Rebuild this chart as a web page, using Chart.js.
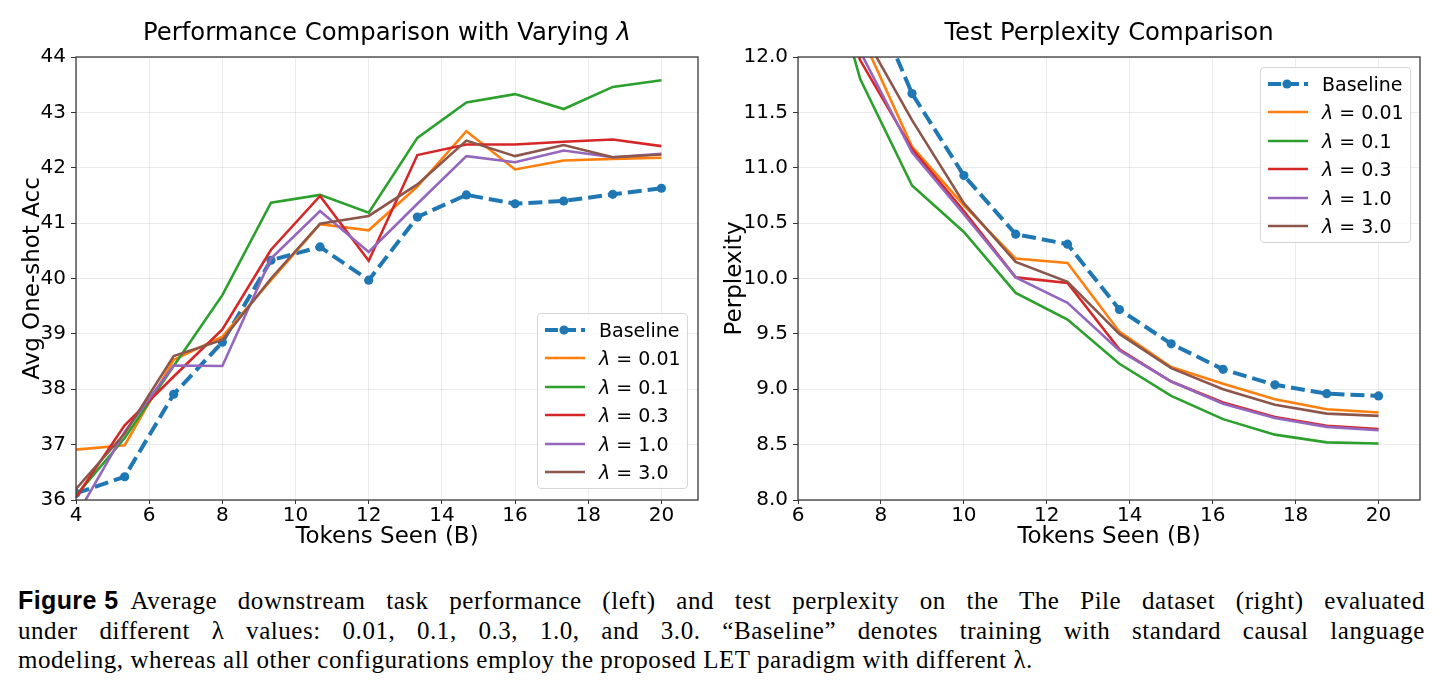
<!DOCTYPE html>
<html>
<head>
<meta charset="utf-8">
<script src="https://cdn.jsdelivr.net/npm/chart.js@4.4.1/dist/chart.umd.min.js"></script>
<style>
  html, body { margin: 0; padding: 0; background: #fff; }
  #page { position: relative; width: 1443px; height: 695px; overflow: hidden; font-family: "DejaVu Sans", sans-serif; }
  canvas { position: absolute; top: 0; }
  .ttl { position: absolute; top: 17px; font-size: 24.3px; line-height: 30px; text-align: center; color: #000; white-space: nowrap; }
  .legend { position: absolute; width: 149px; height: 174px; border: 1px solid #d6d6d6; border-radius: 4px; background: rgba(255,255,255,0.8); font-size: 19px; color: #000; }
  .legend .row { position: absolute; left: 0; height: 28px; line-height: 28px; white-space: nowrap; }
  .legend svg { position: absolute; left: 6px; top: 4px; }
  .legend span { position: absolute; left: 61px; top: 0; }
  .cap { position: absolute; left: 18px; width: 1407px; font-family: "Liberation Serif", "DejaVu Serif", serif; font-size: 25px; letter-spacing: 0.55px; line-height: 30px; color: #000; white-space: nowrap; }
  .cap.j { text-align: justify; text-align-last: justify; white-space: normal; }
  .cap .fig { display: inline-block; margin-right: 12px; font-family: "Liberation Sans", "DejaVu Sans", sans-serif; font-weight: bold; font-size: 25px; letter-spacing: 0.4px; }
</style>
</head>
<body>
<div id="page">
  <canvas id="left" width="720" height="560" style="left:0"></canvas>
  <canvas id="right" width="723" height="560" style="left:720px"></canvas>
  <div class="ttl" style="left:87px;width:600px">Performance Comparison with Varying <i>λ</i></div>
  <div class="ttl" style="left:809px;width:600px">Test Perplexity Comparison</div>
  <div class="legend" id="legLeft" style="left:537px;top:313px"></div>
  <div class="legend" id="legRight" style="left:1260px;top:67px"></div>
  <div class="cap j" style="top:585px"><span class="fig">Figure 5</span>Average downstream task performance (left) and test perplexity on the The Pile dataset (right) evaluated</div>
  <div class="cap j" style="top:616px">under different λ values: 0.01, 0.1, 0.3, 1.0, and 3.0. “Baseline” denotes training with standard causal language</div>
  <div class="cap" style="top:645px">modeling, whereas all other configurations employ the proposed LET paradigm with different λ.</div>
</div>
<script>
// series names and colours (matplotlib tab10)
const seriesNames = ['Baseline', 'λ = 0.01', 'λ = 0.1', 'λ = 0.3', 'λ = 1.0', 'λ = 3.0'];
const seriesColors = ['#1f77b4', '#ff7f0e', '#2ca02c', '#d62728', '#9467bd', '#8c564b'];

// left: avg one-shot accuracy vs tokens seen (B)
const accTokens = [4, 5.33, 6.67, 8, 9.33, 10.67, 12, 13.33, 14.67, 16, 17.33, 18.67, 20];
const accBaseline = [36.12, 36.42, 37.91, 38.85, 40.33, 40.57, 39.97, 41.11, 41.51, 41.35, 41.40, 41.52, 41.63];
const acc001 = [36.91, 36.99, 38.53, 38.95, 39.97, 40.98, 40.87, 41.66, 42.66, 41.97, 42.13, 42.16, 42.18];
const acc01 = [36.08, 37.12, 38.42, 39.70, 41.37, 41.51, 41.19, 42.54, 43.18, 43.33, 43.06, 43.46, 43.58];
const acc03 = [36.05, 37.35, 38.23, 39.08, 40.52, 41.49, 40.32, 42.23, 42.42, 42.42, 42.47, 42.51, 42.39];
const acc10 = [35.70, 37.23, 38.43, 38.42, 40.36, 41.22, 40.48, 41.35, 42.21, 42.10, 42.31, 42.19, 42.25];
const acc30 = [36.20, 37.20, 38.60, 38.89, 40.00, 40.99, 41.13, 41.70, 42.49, 42.21, 42.41, 42.19, 42.24];

// right: test perplexity vs tokens seen (B)
const pplTokens = [6.25, 7.5, 8.75, 10, 11.25, 12.5, 13.75, 15, 16.25, 17.5, 18.75, 20];
const pplBaseline = [14.0, 12.77, 11.67, 10.93, 10.40, 10.31, 9.72, 9.41, 9.18, 9.04, 8.96, 8.94];
const ppl001 = [13.4, 12.22, 11.19, 10.66, 10.18, 10.14, 9.52, 9.20, 9.05, 8.91, 8.82, 8.79];
const ppl01 = [13.47, 11.80, 10.84, 10.42, 9.87, 9.63, 9.23, 8.94, 8.73, 8.59, 8.52, 8.51];
const ppl03 = [13.3, 11.97, 11.17, 10.61, 10.01, 9.96, 9.36, 9.07, 8.88, 8.75, 8.67, 8.64];
const ppl10 = [13.3, 12.05, 11.14, 10.58, 10.01, 9.78, 9.35, 9.07, 8.87, 8.74, 8.66, 8.63];
const ppl30 = [13.5, 12.26, 11.43, 10.68, 10.15, 9.97, 9.50, 9.19, 9.00, 8.86, 8.78, 8.76];

const FONT = 'DejaVu Sans';

const framePlugin = {
  id: 'frame',
  afterDatasetsDraw(chart) {
    const { ctx, chartArea: a } = chart;
    ctx.save();
    ctx.strokeStyle = '#3a3a3a';
    ctx.lineWidth = 1.3;
    ctx.strokeRect(a.left, a.top, a.right - a.left, a.bottom - a.top);
    ctx.restore();
  }
};

function makeDatasets(xs, series) {
  return series.map((ys, i) => ({
    label: seriesNames[i],
    data: xs.map((x, k) => ({ x: x, y: ys[k] })),
    borderColor: seriesColors[i],
    backgroundColor: seriesColors[i],
    borderWidth: i === 0 ? 4 : 2.6,
    borderDash: i === 0 ? [14, 6] : [],
    pointRadius: i === 0 ? 4.6 : 0,
    pointBorderWidth: 0,
    pointBackgroundColor: seriesColors[i],
    tension: 0,
    clip: 0,
    order: i === 0 ? 10 : 6 - i
  }));
}

function makeChart(id, xs, series, opt) {
  const tickFont = { family: FONT, size: 20 };
  const titleFont = { family: FONT, size: 23 };
  return new Chart(document.getElementById(id), {
    type: 'line',
    data: { datasets: makeDatasets(xs, series) },
    plugins: [framePlugin],
    options: {
      responsive: false,
      animation: false,
      devicePixelRatio: 1,
      layout: { padding: { top: 57, right: opt.padRight, bottom: 0, left: 0 } },
      plugins: { legend: { display: false }, title: { display: false }, tooltip: { enabled: false } },
      scales: {
        x: {
          type: 'linear', min: opt.xMin, max: opt.xMax,
          afterFit: s => { s.height = 60; },
          afterBuildTicks: s => { s.ticks = s.ticks.filter(t => t.value <= 20 && t.value % 2 === 0); },
          border: { display: false },
          grid: { color: 'rgba(0,0,0,0.08)', tickColor: '#333', tickLength: 4 },
          ticks: { stepSize: 2, color: '#000', font: tickFont, padding: 0, maxRotation: 0, autoSkip: false },
          title: { display: true, text: 'Tokens Seen (B)', color: '#000', font: titleFont, padding: { top: 0, bottom: 9 } }
        },
        y: {
          min: opt.yMin, max: opt.yMax,
          afterFit: s => { s.width = opt.yWidth; },
          border: { display: false },
          grid: { color: 'rgba(0,0,0,0.08)', tickColor: '#333', tickLength: 5 },
          ticks: { stepSize: opt.yStep, color: '#000', font: tickFont, padding: 5, callback: opt.yFmt },
          title: { display: true, text: opt.yTitle, color: '#000', font: titleFont, padding: { top: opt.yTitlePad, bottom: 0 } }
        }
      }
    }
  });
}

makeChart('left', accTokens, [accBaseline, acc001, acc01, acc03, acc10, acc30], {
  xMin: 4, xMax: 21, yMin: 36, yMax: 44, yStep: 1, yWidth: 76, padRight: 22,
  yTitle: 'Avg One-shot Acc', yTitlePad: 19, yFmt: v => String(v)
});
makeChart('right', pplTokens, [pplBaseline, ppl001, ppl01, ppl03, ppl10, ppl30], {
  xMin: 6, xMax: 21, yMin: 8, yMax: 12, yStep: 0.5, yWidth: 78, padRight: 23,
  yTitle: 'Perplexity', yTitlePad: 1, yFmt: v => v.toFixed(1)
});

function buildLegend(id) {
  const box = document.getElementById(id);
  seriesNames.forEach((name, i) => {
    const row = document.createElement('div');
    row.className = 'row';
    row.style.top = (2 + i * 28.4) + 'px';
    const c = seriesColors[i];
    const sample = i === 0
      ? '<svg width="44" height="20"><line x1="1" y1="10" x2="41" y2="10" stroke="' + c + '" stroke-width="4" stroke-dasharray="13,5"/><circle cx="20" cy="10" r="4.6" fill="' + c + '"/></svg>'
      : '<svg width="44" height="20"><line x1="1" y1="10" x2="41" y2="10" stroke="' + c + '" stroke-width="2.6"/></svg>';
    const label = name.replace('λ', '<i>λ</i>');
    row.innerHTML = sample + '<span>' + label + '</span>';
    box.appendChild(row);
  });
}
buildLegend('legLeft');
buildLegend('legRight');
</script>
</body>
</html>
